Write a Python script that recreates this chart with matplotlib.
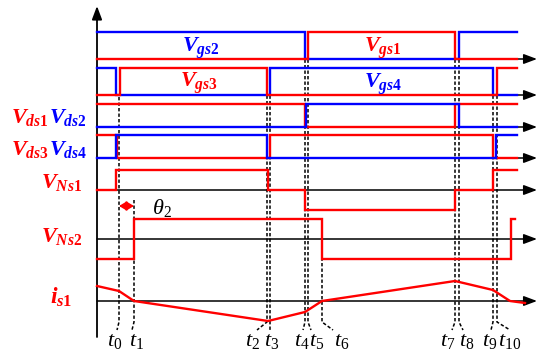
import numpy as np
import matplotlib.pyplot as plt

plt.rcParams.update({
    'mathtext.fontset': 'custom',
    'mathtext.it': 'Liberation Serif:italic:bold',
    'mathtext.rm': 'Liberation Serif:bold',
    'mathtext.bf': 'Liberation Serif:bold',
    'mathtext.sf': 'Liberation Serif:italic',
    'mathtext.tt': 'Liberation Serif',
})

RED = '#ff0000'
BLUE = '#0000ff'

# switching instants t0..t10 (arbitrary time units, origin on the vertical axis)
t_marks = [22, 37, 170, 173, 208, 211, 225, 358, 362, 396, 400]
t_names = [r'$\mathsf{t}_{\mathtt{%d}}$' % i for i in range(11)]
t_end = 420

# step waveforms: edge times and normalised levels (1 high, 0 low, -1 negative)
vgs2_edges, vgs2_levels = [208, 362], [1, 0, 1]
vgs1_edges, vgs1_levels = [211, 358], [0, 1, 0]
vgs4_edges, vgs4_levels = [19, 173, 396], [1, 0, 1, 0]
vgs3_edges, vgs3_levels = [23, 170, 400], [0, 1, 0, 1]
vds1_edges, vds1_levels = [208, 358], [1, 0, 1]
vds2_edges, vds2_levels = [209, 362], [0, 1, 0]
vds3_edges, vds3_levels = [20, 173, 396], [1, 0, 1, 0]
vds4_edges, vds4_levels = [19, 170, 399], [0, 1, 0, 1]
vns1_edges, vns1_levels = [19, 171, 208, 358, 396], [0, 1, 0, -1, 0, 1]
vns2_edges, vns2_levels = [37, 225, 414], [-1, 1, -1, 1]
vns2_end = 418

# secondary current (normalised)
is1_t = [0, 22, 37, 171, 208, 225, 358, 396, 413, 428]
is1_v = [0.75, 0.5, 0, -1, -0.55, 0, 1, 0.55, 0, -0.1]


def step_xy(edges, levels, end=t_end):
    xs, ys = [0], [levels[0]]
    for e, lv in zip(edges, levels[1:]):
        xs += [e, e]
        ys += [ys[-1], lv]
    xs.append(end)
    ys.append(ys[-1])
    return np.array(xs), np.array(ys)


fig = plt.figure(figsize=(5.5, 3.59), dpi=100)
ax = fig.add_axes([0, 0, 1, 1])
ax.set_xlim(-97, 453)
ax.set_ylim(359, 0)
ax.axis('off')

# row layout: (baseline, amplitude)
rows = {'gs12': (59, 27), 'gs34': (95, 27), 'ds12': (127, 23), 'ds34': (158, 23),
        'ns1': (190, 20), 'ns2': (239, 20), 'is1': (301, 20)}

# baselines with arrows
for base, amp in rows.values():
    ax.annotate('', xy=(440, base), xytext=(0, base),
                arrowprops=dict(arrowstyle='-|>,head_length=0.8,head_width=0.3',
                                color='k', lw=1.1, mutation_scale=10,
                                shrinkA=0, shrinkB=0), zorder=2)
ax.annotate('', xy=(0, 6), xytext=(0, 337),
            arrowprops=dict(arrowstyle='-|>,head_length=0.8,head_width=0.3',
                            color='k', lw=1.3, mutation_scale=10,
                            shrinkA=0, shrinkB=0), zorder=2)

# dashed guide lines
dash_top = [97, 200, 68, 68, 32, 32, 219, 32, 32, 68, 68]
dash_dx = [-2, -2, -10, 0, -2, 3, 11, -3, 4, -2, 13]
for t, top, dx in zip(t_marks, dash_top, dash_dx):
    ax.plot([t, t, t + dx], [top, 322, 330], color='k', lw=1.1,
            dashes=(2.2, 1.4), zorder=1)

label_x = [18, 40, 156, 175, 205, 220, 245, 351, 370, 393, 413]
for lx, name in zip(label_x, t_names):
    ax.text(lx, 346, name, fontsize=16, ha='center', va='baseline')

signals = [
    ('gs12', vgs2_edges, vgs2_levels, BLUE, t_end),
    ('gs12', vgs1_edges, vgs1_levels, RED, t_end),
    ('gs34', vgs4_edges, vgs4_levels, BLUE, t_end),
    ('gs34', vgs3_edges, vgs3_levels, RED, t_end),
    ('ds12', vds1_edges, vds1_levels, RED, t_end),
    ('ds12', vds2_edges, vds2_levels, BLUE, t_end),
    ('ds34', vds3_edges, vds3_levels, RED, t_end),
    ('ds34', vds4_edges, vds4_levels, BLUE, t_end),
    ('ns1', vns1_edges, vns1_levels, RED, t_end),
    ('ns2', vns2_edges, vns2_levels, RED, vns2_end),
]
for row, edges, levels, col, end in signals:
    base, amp = rows[row]
    xs, ys = step_xy(edges, levels, end)
    ax.plot(xs, base - amp * ys, color=col, lw=1.7, zorder=3,
            solid_joinstyle='miter')

base, amp = rows['is1']
ax.plot(is1_t, base - amp * np.array(is1_v), color=RED, lw=1.7, zorder=3)

# theta2 marker
ax.annotate('', xy=(t_marks[1], 206), xytext=(t_marks[0], 206),
            arrowprops=dict(arrowstyle='<|-|>,head_length=0.5,head_width=0.3',
                            color=RED, lw=1.2, mutation_scale=9,
                            shrinkA=0, shrinkB=0), zorder=4)
ax.text(65, 214, r'$\mathsf{\theta}_{\mathtt{2}}$', fontsize=16,
        ha='center', va='baseline')

fs = 16
ax.text(104, 52, r'$V_{gs2}$', color=BLUE, fontsize=fs, ha='center', va='baseline')
ax.text(286, 52, r'$V_{gs1}$', color=RED, fontsize=fs, ha='center', va='baseline')
ax.text(102, 87, r'$V_{gs3}$', color=RED, fontsize=fs, ha='center', va='baseline')
ax.text(286, 88, r'$V_{gs4}$', color=BLUE, fontsize=fs, ha='center', va='baseline')
ax.text(-86, 123, r'$V_{ds1}$', color=RED, fontsize=fs, ha='left', va='baseline')
ax.text(-48, 123, r'$V_{ds2}$', color=BLUE, fontsize=fs, ha='left', va='baseline')
ax.text(-86, 155, r'$V_{ds3}$', color=RED, fontsize=fs, ha='left', va='baseline')
ax.text(-48, 155, r'$V_{ds4}$', color=BLUE, fontsize=fs, ha='left', va='baseline')
ax.text(-15, 188, r'$V_{Ns1}$', color=RED, fontsize=fs, ha='right', va='baseline')
ax.text(-15, 242, r'$V_{Ns2}$', color=RED, fontsize=fs, ha='right', va='baseline')
ax.text(-25, 304, r'$i_{s1}$', color=RED, fontsize=fs + 1, ha='right', va='baseline')

fig.savefig('out.png', dpi=100)
